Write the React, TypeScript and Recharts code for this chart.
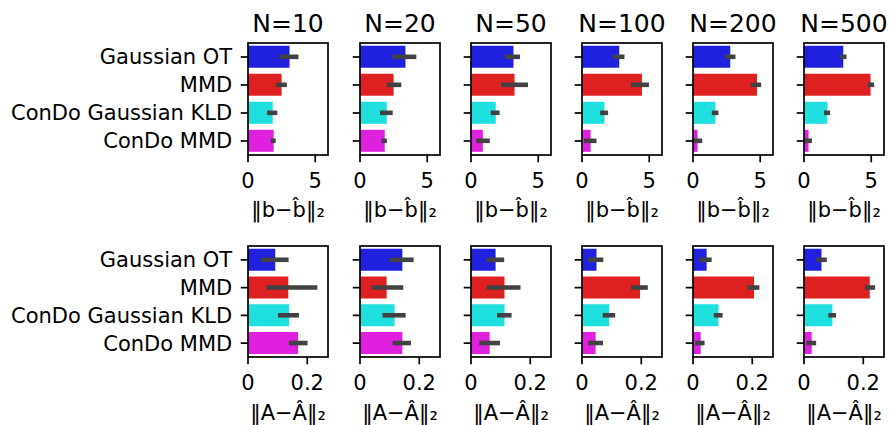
import React from "react";
import { BarChart, Bar, Cell, XAxis, YAxis, ErrorBar } from "recharts";

// ============================================================================
// Data
// ============================================================================

const METHODS = ["Gaussian OT", "MMD", "ConDo Gaussian KLD", "ConDo MMD"];
const COLORS = ["#2020df", "#df2020", "#20dfdf", "#df20df"];
const SAMPLE_SIZES = [10, 20, 50, 100, 200, 500];

// ||b - b_hat||_2, one row per sample size, one entry per method
const B_MEAN = [
  [3.09, 2.5, 1.84, 1.91],
  [3.38, 2.5, 1.99, 1.84],
  [3.16, 3.24, 1.84, 0.88],
  [2.77, 4.46, 1.67, 0.64],
  [2.77, 4.76, 1.67, 0.34],
  [2.92, 4.95, 1.74, 0.34],
];
const B_LO = [
  [2.35, 2.06, 1.42, 1.69],
  [2.43, 1.99, 1.49, 1.6],
  [2.52, 2.23, 1.47, 0.39],
  [2.33, 3.65, 1.35, 0.15],
  [2.38, 4.29, 1.4, 0.02],
  [2.67, 4.73, 1.49, 0.02],
];
const B_HI = [
  [3.75, 2.89, 2.18, 2.06],
  [4.19, 3.07, 2.43, 2.0],
  [3.65, 4.24, 2.13, 1.4],
  [3.16, 4.98, 1.94, 1.08],
  [3.16, 5.07, 1.89, 0.69],
  [3.16, 5.22, 1.94, 0.59],
];

// ||A - A_hat||_2
const A_MEAN = [
  [0.092, 0.136, 0.139, 0.169],
  [0.143, 0.09, 0.117, 0.143],
  [0.083, 0.113, 0.113, 0.063],
  [0.049, 0.196, 0.092, 0.046],
  [0.046, 0.206, 0.086, 0.026],
  [0.059, 0.222, 0.096, 0.026],
];
const A_LO = [
  [0.044, 0.062, 0.101, 0.138],
  [0.1, 0.039, 0.076, 0.11],
  [0.052, 0.053, 0.088, 0.028],
  [0.02, 0.166, 0.07, 0.021],
  [0.022, 0.183, 0.07, 0.007],
  [0.042, 0.206, 0.082, 0.009],
];
const A_HI = [
  [0.137, 0.234, 0.172, 0.201],
  [0.181, 0.146, 0.154, 0.172],
  [0.112, 0.167, 0.137, 0.098],
  [0.072, 0.222, 0.112, 0.071],
  [0.063, 0.224, 0.1, 0.039],
  [0.077, 0.24, 0.108, 0.041],
];

const B_TICKS = [0, 5];
const A_TICKS = [0, 0.2];

// ============================================================================
// Layout
// ============================================================================

const FONT = "'DejaVu Sans', sans-serif";
const FONT_SIZE = 21;
const PANEL_LEFT = [248, 360, 471, 582, 693, 804];
const PLOT_W = 80;
const M_TOP = 2;
const M_RIGHT = 2;
const LINE_W = 1.7;

interface RowConfig {
  top: number;
  height: number;
  domainMax: number;
  ticks: number[];
  label: string;
  mean: number[][];
  lo: number[][];
  hi: number[][];
  axisH: number;
  labelOffset: number;
}

const ROWS: RowConfig[] = [
  {
    top: 43,
    height: 112,
    domainMax: 5.95,
    ticks: B_TICKS,
    label: "\u2016b\u2212b\u0302\u2016\u2082",
    mean: B_MEAN,
    lo: B_LO,
    hi: B_HI,
    axisH: 70,
    labelOffset: 8.5,
  },
  {
    top: 246,
    height: 111,
    domainMax: 0.27,
    ticks: A_TICKS,
    label: "\u2016A\u2212\u00c2\u2016\u2082",
    mean: A_MEAN,
    lo: A_LO,
    hi: A_HI,
    axisH: 68,
    labelOffset: 5,
  },
];

// ============================================================================
// Components
// ============================================================================

function Panel({ row, col }: { row: RowConfig; col: number }) {
  const yW = col === 0 ? PANEL_LEFT[0] : 24;
  const left = PANEL_LEFT[col] - yW;
  const top = row.top - M_TOP;
  const width = yW + PLOT_W + M_RIGHT;
  const height = M_TOP + row.height + row.axisH;

  const data = METHODS.map((name, i) => {
    const m = row.mean[col][i];
    return { name, value: m, err: [m - row.lo[col][i], row.hi[col][i] - m] };
  });

  return (
    <div style={{ position: "absolute", left, top, width, height }}>
      <BarChart
        width={width}
        height={height}
        data={data}
        layout="vertical"
        margin={{ top: M_TOP, right: M_RIGHT, bottom: 0, left: 0 }}
        barCategoryGap="10%"
        style={{ overflow: "visible" }}
      >
        <XAxis
          type="number"
          domain={[0, row.domainMax]}
          allowDataOverflow
          ticks={row.ticks}
          interval={0}
          axisLine={false}
          tickLine={{ stroke: "#000", strokeWidth: LINE_W }}
          tickSize={7.3}
          tickMargin={11}
          tick={{ fill: "#000", fontSize: FONT_SIZE, fontFamily: FONT }}
          height={row.axisH}
          label={{
            value: row.label,
            position: "insideBottom",
            offset: row.labelOffset,
            fill: "#000",
            fontSize: FONT_SIZE,
            fontFamily: FONT,
          }}
        />
        <YAxis
          type="category"
          dataKey="name"
          width={yW}
          axisLine={false}
          tickLine={{ stroke: "#000", strokeWidth: LINE_W }}
          tickSize={7.3}
          tickMargin={8.5}
          interval={0}
          tick={{ fill: "#000", fontSize: FONT_SIZE, fontFamily: FONT }}
          tickFormatter={col === 0 ? undefined : () => ""}
        />
        <Bar dataKey="value" isAnimationActive={false}>
          {data.map((d, i) => (
            <Cell key={`cell-${d.name}`} fill={COLORS[i]} />
          ))}
          <ErrorBar
            dataKey="err"
            direction="x"
            width={0}
            stroke="#424242"
            strokeWidth={4.6}
            isAnimationActive={false}
          />
        </Bar>
      </BarChart>
      {/* axes frame */}
      <svg
        style={{ position: "absolute", left: yW, top: M_TOP, overflow: "visible", pointerEvents: "none" }}
        width={PLOT_W}
        height={row.height}
      >
        <rect x={0} y={0} width={PLOT_W} height={row.height} fill="none" stroke="#000" strokeWidth={LINE_W} />
      </svg>
    </div>
  );
}

export default function App() {
  return (
    <div
      style={{
        position: "absolute",
        left: 0,
        top: 0,
        width: 890,
        height: 425,
        overflow: "hidden",
        background: "#fff",
        fontFamily: FONT,
      }}
    >
      {SAMPLE_SIZES.map((n, col) => (
        <div
          key={`title-${n}`}
          style={{
            position: "absolute",
            left: PANEL_LEFT[col] - 20,
            width: PLOT_W + 40,
            top: 10.5,
            textAlign: "center",
            fontSize: 25,
            lineHeight: "25px",
            color: "#000",
          }}
        >
          N={n}
        </div>
      ))}
      {ROWS.map((row, r) =>
        SAMPLE_SIZES.map((n, col) => <Panel key={`p-${r}-${n}`} row={row} col={col} />)
      )}
    </div>
  );
}
